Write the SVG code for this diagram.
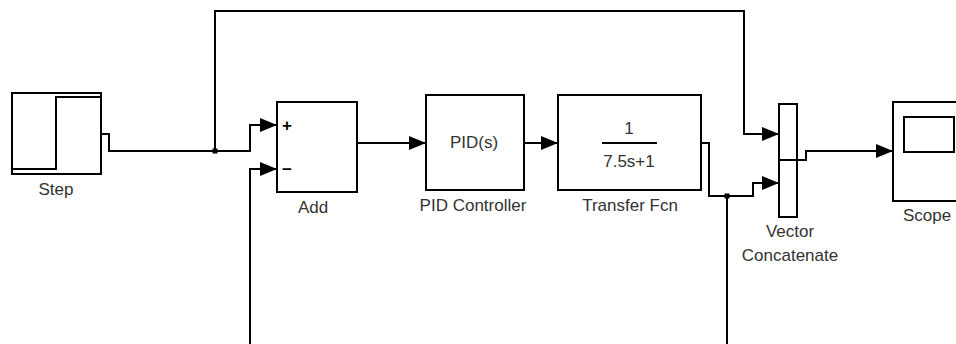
<svg xmlns="http://www.w3.org/2000/svg" width="956" height="344" viewBox="0 0 956 344">
<style>
.blk{fill:#fff;stroke:#000;stroke-width:2}
.ln{fill:none;stroke:#000;stroke-width:2}
.w{fill:none;stroke:#000;stroke-width:2;marker-end:url(#ah)}
.t{font-family:"Liberation Sans",Arial,sans-serif;font-size:17px;fill:#333;text-anchor:middle}
.s{font-family:"Liberation Sans",Arial,sans-serif;font-size:17px;font-weight:bold;fill:#000;text-anchor:middle}
</style>
<defs>
<marker id="ah" markerUnits="userSpaceOnUse" markerWidth="18" markerHeight="14" refX="17" refY="7" orient="auto">
<path d="M0,0 L17,7 L0,14 z" fill="#000"/>
</marker>
</defs>
<rect width="956" height="344" fill="#fff"/>
<g id="connectors">
<polyline class="ln" points="101,134 109,134 109,151 215,151"/>
<polyline class="w" points="215,151 250,151 250,125 277,125"/>
<polyline class="w" points="215,151 215,11 744,11 744,134 779,134"/>
<polyline class="w" points="250,344 250,169 277,169"/>
<polyline class="w" points="357,143 426,143"/>
<polyline class="w" points="524,143 558,143"/>
<polyline class="w" points="701,143 709,143 709,196 753,196 753,183 779,183"/>
<polyline class="ln" points="727,196 727,344"/>
<polyline class="w" points="779,160 806,160 806,151 893,151"/>
<rect x="212.5" y="148.5" width="5" height="5" fill="#000"/>
<rect x="724.5" y="193.5" width="5" height="5" fill="#000"/>
</g>
<g id="step">
<rect class="blk" x="12" y="93" width="89" height="81"/>
<polyline class="ln" points="12,169 56,169 56,97 100,97"/>
<text class="t" x="56" y="195">Step</text>
</g>
<g id="add">
<rect class="blk" x="277" y="102" width="80" height="90"/>
<text class="s" x="287" y="131">+</text>
<text class="s" x="287" y="175">−</text>
<text class="t" x="313" y="213">Add</text>
</g>
<g id="pid">
<rect class="blk" x="426" y="95" width="98" height="95"/>
<text class="t" x="474" y="148">PID(s)</text>
<text class="t" x="473" y="211">PID Controller</text>
</g>
<g id="tf">
<rect class="blk" x="558" y="95" width="143" height="95"/>
<text class="t" x="629" y="134">1</text>
<line class="ln" x1="602" y1="143" x2="657" y2="143"/>
<text class="t" x="629" y="167">7.5s+1</text>
<text class="t" x="630" y="211">Transfer Fcn</text>
</g>
<g id="concat">
<rect class="blk" x="779" y="104" width="18" height="113" fill="none"/>
<line class="ln" x1="779" y1="160" x2="797" y2="160"/>
<text class="t" x="790" y="237">Vector</text>
<text class="t" x="790" y="261">Concatenate</text>
</g>
<g id="scope">
<rect class="blk" x="893" y="102" width="80" height="99"/>
<rect class="blk" x="904" y="117" width="50" height="35"/>
<text class="t" x="903" y="221" style="text-anchor:start">Scope</text>
</g>
</svg>
